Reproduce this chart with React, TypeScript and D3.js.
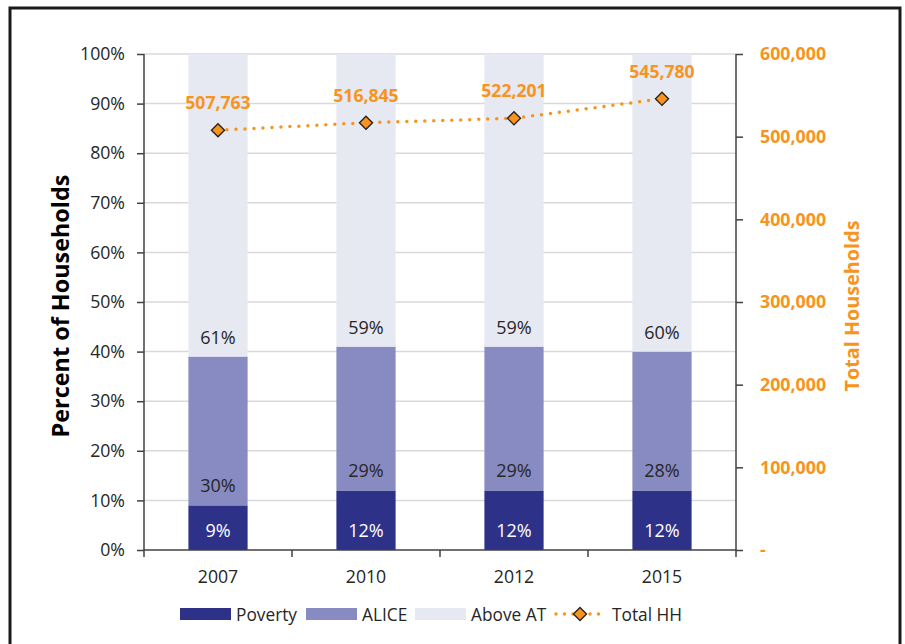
import { useEffect, useRef } from "react";
import * as d3 from "d3";

const YEARS = ["2007", "2010", "2012", "2015"];
const POVERTY = [9, 12, 12, 12];
const ALICE = [30, 29, 29, 28];
const ABOVE_AT = [61, 59, 59, 60];
const TOTAL_HH = [507763, 516845, 522201, 545780];
const PCT_TICKS = [0, 10, 20, 30, 40, 50, 60, 70, 80, 90, 100];
const HH_TICKS = [0, 100000, 200000, 300000, 400000, 500000, 600000];

const FONT = "'Open Sans', 'DejaVu Sans', sans-serif";
const C_POV = "#2e3188";
const C_ALICE = "#878bc2";
const C_ABOVE = "#e6e8f2";
const C_ORANGE = "#f7941d";
const C_TEXT = "#262626";

export default function App() {
  const svgRef = useRef<SVGSVGElement | null>(null);

  useEffect(() => {
    if (!svgRef.current) return;
    const W = 905, H = 644;
    const margin = { top: 54, right: 169, bottom: 94, left: 144 };
    const innerW = W - margin.left - margin.right;
    const innerH = H - margin.top - margin.bottom;

    const svg = d3.select(svgRef.current);
    svg.selectAll("*").remove();
    svg.attr("width", W).attr("height", H).attr("viewBox", `0 0 ${W} ${H}`);

    svg.append("rect").attr("width", W).attr("height", H).attr("fill", "#fff");
    svg.append("rect").attr("x", 10).attr("y", 8).attr("width", 890).attr("height", 700)
      .attr("fill", "none").attr("stroke", "#1a1a1a").attr("stroke-width", 3);

    const g = svg.append("g").attr("transform", `translate(${margin.left},${margin.top})`);

    const x = d3.scaleBand().domain(YEARS).range([0, innerW]).paddingInner(0.6).paddingOuter(0.3);
    const y = d3.scaleLinear().domain([0, 100]).range([innerH, 0]);
    const y2 = d3.scaleLinear().domain([0, 600000]).range([innerH, 0]);

    // gridlines
    g.append("g").selectAll("line").data(PCT_TICKS.filter((t) => t > 0)).join("line")
      .attr("x1", 0).attr("x2", innerW).attr("y1", (d) => y(d)).attr("y2", (d) => y(d))
      .attr("stroke", "#d9d9d9").attr("stroke-width", 1.5);

    // stacked bars
    const rows = YEARS.map((yr, i) => ({ yr, pov: POVERTY[i], alice: ALICE[i], above: ABOVE_AT[i] }));
    const stack = d3.stack<(typeof rows)[0]>().keys(["pov", "alice", "above"])(rows);
    const colors: Record<string, string> = { pov: C_POV, alice: C_ALICE, above: C_ABOVE };
    const labelFill: Record<string, string> = { pov: "#fff", alice: C_TEXT, above: C_TEXT };

    stack.forEach((layer) => {
      g.append("g").selectAll("rect").data(layer).join("rect")
        .attr("x", (d) => x(d.data.yr)!)
        .attr("width", x.bandwidth())
        .attr("y", (d) => y(d[1]))
        .attr("height", (d) => y(d[0]) - y(d[1]))
        .attr("fill", colors[layer.key]);
      g.append("g").selectAll("text").data(layer).join("text")
        .attr("x", (d) => x(d.data.yr)! + x.bandwidth() / 2)
        .attr("y", (d) => y(d[0]) - 13)
        .attr("text-anchor", "middle")
        .attr("font-family", FONT).attr("font-size", 18).attr("fill", labelFill[layer.key])
        .text((d) => `${d[1] - d[0]}%`);
    });

    // axes
    const axisColor = "#404040";
    const left = g.append("g").call(d3.axisLeft(y).tickValues(PCT_TICKS).tickSize(7).tickPadding(12).tickFormat((d) => `${d}%`));
    left.select(".domain").remove();
    left.selectAll(".tick line").attr("stroke", axisColor).attr("stroke-width", 1.5);
    left.selectAll("text").attr("font-family", FONT).attr("font-size", 17.7).attr("fill", C_TEXT);
    g.append("line").attr("x1", 0).attr("x2", 0).attr("y1", 0).attr("y2", innerH)
      .attr("stroke", axisColor).attr("stroke-width", 1.5);

    const right = g.append("g").attr("transform", `translate(${innerW},0)`)
      .call(d3.axisRight(y2).tickValues(HH_TICKS).tickSize(7).tickPadding(17)
        .tickFormat((d) => ((d as number) === 0 ? "-" : d3.format(",")(d as number))));
    right.select(".domain").remove();
    right.selectAll(".tick line").attr("stroke", axisColor).attr("stroke-width", 1.5);
    right.selectAll("text").attr("font-family", FONT).attr("font-size", 17.8).attr("font-weight", 700).attr("fill", C_ORANGE);
    g.append("line").attr("x1", innerW).attr("x2", innerW).attr("y1", 0).attr("y2", innerH)
      .attr("stroke", axisColor).attr("stroke-width", 1.5);

    const xCats = d3.scaleLinear().domain([0, YEARS.length]).range([0, innerW]);
    g.append("g").selectAll("line").data(d3.range(YEARS.length + 1)).join("line")
      .attr("x1", (d) => xCats(d)).attr("x2", (d) => xCats(d)).attr("y1", innerH).attr("y2", innerH + 7)
      .attr("stroke", axisColor).attr("stroke-width", 1.5);
    g.append("line").attr("x1", 0).attr("x2", innerW).attr("y1", innerH).attr("y2", innerH)
      .attr("stroke", axisColor).attr("stroke-width", 1.5);
    g.append("g").selectAll("text").data(YEARS).join("text")
      .attr("x", (d) => x(d)! + x.bandwidth() / 2).attr("y", innerH + 33)
      .attr("text-anchor", "middle").attr("font-family", FONT).attr("font-size", 17.7).attr("fill", C_TEXT)
      .text((d) => d);

    // axis titles
    svg.append("text").attr("transform", `translate(69,${margin.top + innerH / 2 + 4}) rotate(-90)`)
      .attr("text-anchor", "middle").attr("font-family", FONT).attr("font-size", 23.4).attr("font-weight", 700)
      .attr("fill", "#000").text("Percent of Households");
    svg.append("text").attr("transform", `translate(859,${margin.top + innerH / 2 + 4}) rotate(-90)`)
      .attr("text-anchor", "middle").attr("font-family", FONT).attr("font-size", 19.8).attr("font-weight", 700)
      .attr("fill", C_ORANGE).text("Total Households");

    // total households line
    const cx = (yr: string) => x(yr)! + x.bandwidth() / 2;
    const pts = YEARS.map((yr, i) => ({ yr, v: TOTAL_HH[i] }));
    g.append("path").datum(pts)
      .attr("d", d3.line<(typeof pts)[0]>().x((d) => cx(d.yr)).y((d) => y2(d.v)) as any)
      .attr("fill", "none").attr("stroke", C_ORANGE).attr("stroke-width", 3.5)
      .attr("stroke-linecap", "round").attr("stroke-dasharray", "0,9");
    const diamond = d3.symbol().type(d3.symbolDiamond2).size(110);
    g.append("g").selectAll("path").data(pts).join("path")
      .attr("transform", (d) => `translate(${cx(d.yr)},${y2(d.v)})`)
      .attr("d", diamond as any).attr("fill", C_ORANGE).attr("stroke", "#231f20").attr("stroke-width", 1.3);
    g.append("g").selectAll("text").data(pts).join("text")
      .attr("x", (d) => cx(d.yr)).attr("y", (d) => y2(d.v) - 21)
      .attr("text-anchor", "middle").attr("font-family", FONT).attr("font-size", 17.6).attr("font-weight", 700)
      .attr("fill", C_ORANGE).text((d) => d3.format(",")(d.v));

    // legend
    const lg = svg.append("g").attr("transform", "translate(0,614)");
    const legendItems = [
      { label: "Poverty", color: C_POV, x: 180 },
      { label: "ALICE", color: C_ALICE, x: 306 },
      { label: "Above AT", color: C_ABOVE, x: 415 },
    ];
    legendItems.forEach((it) => {
      lg.append("rect").attr("x", it.x).attr("y", -6).attr("width", 51).attr("height", 12).attr("fill", it.color);
      lg.append("text").attr("x", it.x + 56).attr("y", 6.5).attr("font-family", FONT).attr("font-size", 17.3)
        .attr("fill", C_TEXT).text(it.label);
    });
    lg.append("line").attr("x1", 556).attr("x2", 602).attr("y1", 0).attr("y2", 0)
      .attr("stroke", C_ORANGE).attr("stroke-width", 3.5).attr("stroke-linecap", "round").attr("stroke-dasharray", "0,8.5");
    lg.append("path").attr("transform", "translate(580,0)").attr("d", diamond as any)
      .attr("fill", C_ORANGE).attr("stroke", "#231f20").attr("stroke-width", 1.3);
    lg.append("text").attr("x", 612).attr("y", 6.5).attr("font-family", FONT).attr("font-size", 17.3)
      .attr("fill", C_TEXT).text("Total HH");
  }, []);

  return <svg ref={svgRef} style={{ position: "absolute", left: 0, top: 0, display: "block" }} />;
}
